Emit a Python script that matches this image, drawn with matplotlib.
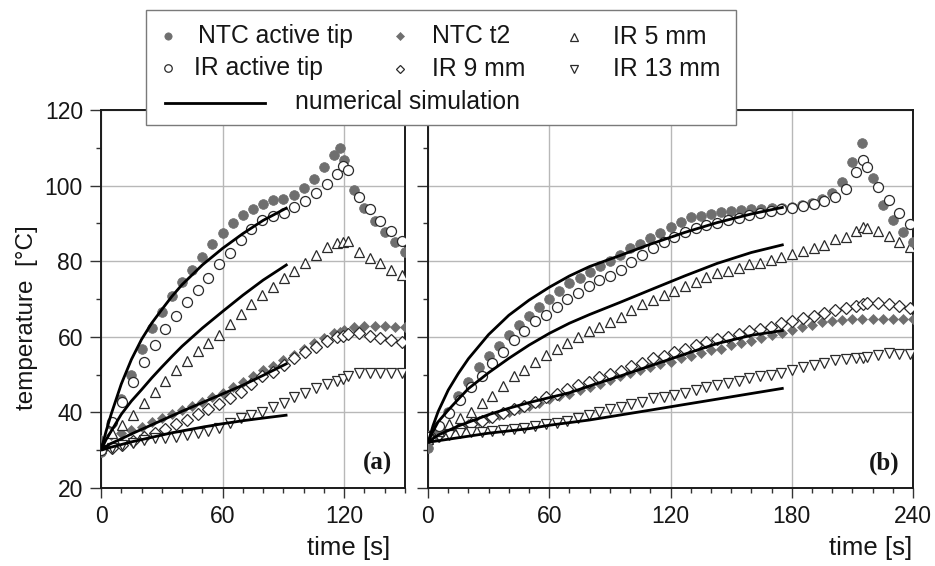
import matplotlib
matplotlib.use('Agg')
import matplotlib.pyplot as plt
from matplotlib import ticker
from matplotlib.lines import Line2D
from matplotlib.patches import Rectangle

plt.rcParams['font.family'] = ['Liberation Sans', 'DejaVu Sans']

# Panel (a): NTC probes sampled every 5 s, IR camera roughly every 5.3 s
ntc_a_time = [0, 5, 10, 15, 20, 25, 30, 35, 40, 45, 50, 55, 60, 65, 70, 75, 80, 85, 90, 95,
              100, 105, 110, 115, 118, 120, 125, 130, 135, 140, 145, 150]
ntc_tip_a = [29.5, 37.0, 43.5, 49.9, 56.7, 62.2, 66.6, 70.8, 74.6, 77.8, 81.2, 84.6, 87.5, 90.2, 92.2, 93.8,
             95.1, 96.2, 96.4, 97.5, 99.4, 101.7, 104.8, 108.0, 110.0, 106.9, 98.8, 94.2, 90.6, 87.6, 85.0, 82.5]
ntc_t2_a = [32.7, 34.0, 34.5, 35.3, 36.2, 37.5, 38.4, 39.6, 40.6, 41.7, 42.8, 44.0, 45.2, 46.8, 48.1, 49.7,
            51.2, 52.3, 53.9, 55.2, 56.7, 58.3, 59.6, 60.9, 61.4, 61.8, 62.5, 62.9, 62.9, 62.9, 62.7, 62.5]

ir_a_time = [0, 5.3, 10.6, 15.9, 21.2, 26.5, 31.8, 37.1, 42.4, 47.7, 53.0, 58.3, 63.6, 68.9, 74.2,
             79.5, 84.8, 90.1, 95.4, 100.7, 106.0, 111.3, 116.6, 119.5, 121.9, 127.2, 132.5, 137.8, 143.1, 148.4]
ir_tip_a = [30.0, 37.5, 42.8, 48.1, 53.4, 57.7, 62.0, 65.5, 69.3, 72.4, 75.6, 79.3, 82.2, 85.6, 88.6,
            90.9, 92.0, 92.8, 94.3, 96.0, 98.1, 100.4, 103.2, 105.3, 104.1, 96.9, 93.7, 90.6, 88.1, 85.4]
ir_5mm_a = [30.5, 34.5, 36.7, 39.3, 42.4, 45.5, 48.4, 51.2, 53.7, 56.3, 58.3, 60.5, 63.5, 66.0, 68.6,
            71.1, 73.3, 75.5, 77.4, 79.6, 81.6, 83.8, 84.9, 85.2, 85.4, 82.5, 80.8, 79.4, 77.8, 76.3]
ir_9mm_a = [30.1, 30.5, 31.5, 32.5, 33.5, 34.6, 35.6, 36.8, 38.0, 39.5, 40.8, 42.2, 43.8, 45.5, 47.5,
            49.5, 50.8, 52.5, 54.3, 56.1, 57.4, 59.0, 59.9, 60.3, 60.7, 61.1, 60.2, 59.6, 59.2, 58.7]
ir_13mm_a = [30.0, 30.5, 31.3, 32.0, 32.6, 33.1, 33.3, 33.5, 34.0, 34.5, 35.2, 35.8, 37.1, 38.4, 39.3,
             40.2, 41.5, 42.6, 44.0, 45.2, 46.4, 47.5, 48.2, 48.8, 49.5, 50.3, 50.3, 50.3, 50.3, 50.3]

sim_a_time = [0, 2.5, 5, 10, 15, 20, 25, 30, 35, 40, 50, 60, 70, 80, 92]
sim_a_tip = [30, 35.0, 39.5, 47.5, 54.0, 59.3, 63.6, 67.2, 70.7, 73.8, 79.0, 83.4, 87.3, 90.8, 94.2]
sim_a_5mm = [30, 32.8, 35.0, 39.5, 43.0, 46.0, 49.1, 52.0, 54.8, 57.5, 62.3, 66.7, 71.0, 75.0, 79.2]
sim_a_t2 = [30, 31.0, 31.8, 33.0, 34.3, 35.5, 36.7, 37.9, 39.1, 40.3, 42.6, 44.9, 47.2, 49.8, 53.0]
sim_a_13mm = [30, 30.4, 30.8, 31.5, 32.2, 32.8, 33.4, 34.0, 34.6, 35.1, 36.1, 37.0, 37.8, 38.5, 39.3]

# Panel (b)
ntc_b_time = [0, 5, 10, 15, 20, 25, 30, 35, 40, 45, 50, 55, 60, 65, 70, 75, 80, 85, 90, 95,
              100, 105, 110, 115, 120, 125, 130, 135, 140, 145, 150, 155, 160, 165, 170, 175, 180,
              185, 190, 195, 200, 205, 210, 215, 220, 225, 230, 235, 240]
ntc_tip_b = [30.5, 35.5, 40.0, 44.3, 48.1, 51.9, 54.9, 57.6, 60.5, 63.1, 65.6, 67.8, 70.0, 72.2, 74.3,
             75.6, 77.1, 78.6, 80.0, 81.6, 83.4, 84.6, 86.2, 87.5, 89.1, 90.5, 91.6, 92.0, 92.5, 93.1,
             93.4, 93.5, 93.7, 93.8, 94.2, 94.2, 94.4, 94.8, 95.4, 96.4, 98.1, 100.9, 106.3, 111.4,
             101.9, 94.9, 90.9, 87.8, 85.2]
ntc_t2_b = [32.0, 33.5, 35.0, 36.0, 37.0, 37.8, 38.5, 39.3, 40.1, 40.9, 41.7, 42.5, 43.5, 44.3, 45.0,
            45.8, 46.6, 47.5, 48.6, 49.5, 50.4, 51.2, 51.9, 52.8, 53.4, 54.3, 54.9, 55.8, 56.5, 56.9,
            57.8, 58.4, 59.0, 59.8, 60.5, 61.1, 61.8, 62.5, 63.1, 63.8, 64.3, 64.4, 64.6, 64.6, 64.6,
            64.6, 64.6, 64.6, 64.6]

ir_b_time = [0, 5.3, 10.6, 15.9, 21.2, 26.5, 31.8, 37.1, 42.4, 47.7, 53.0, 58.3, 63.6, 68.9, 74.2,
             79.5, 84.8, 90.1, 95.4, 100.7, 106.0, 111.3, 116.6, 121.9, 127.2, 132.5, 137.8, 143.1,
             148.4, 153.7, 159.0, 164.3, 169.6, 174.9, 180.2, 185.5, 190.8, 196.1, 201.4, 206.7,
             212.0, 215.5, 217.3, 222.6, 227.9, 233.2, 238.5]
ir_tip_b = [33.5, 36.5, 39.8, 43.3, 46.8, 49.7, 53.0, 56.0, 59.2, 61.6, 64.2, 65.8, 68.0, 69.9, 71.7,
            73.4, 75.0, 76.1, 77.7, 79.9, 81.6, 83.4, 85.2, 86.5, 87.8, 88.7, 89.6, 90.2, 90.9, 91.3,
            92.3, 92.8, 93.2, 93.7, 94.2, 94.6, 95.1, 95.9, 96.9, 99.1, 103.7, 106.8, 104.8, 99.7,
            96.2, 92.8, 89.8]
ir_5mm_b = [33.0, 35.0, 36.8, 38.4, 40.2, 42.4, 44.3, 47.0, 49.6, 51.2, 53.4, 55.2, 56.7, 58.3, 60.0,
            61.6, 62.7, 63.8, 65.3, 67.1, 68.7, 69.8, 71.1, 72.2, 73.4, 74.6, 75.9, 76.8, 77.5, 78.3,
            79.2, 79.6, 80.3, 81.2, 81.9, 82.8, 83.4, 84.3, 85.8, 86.5, 88.1, 89.1, 88.7, 88.0, 86.7,
            85.2, 83.7]
ir_9mm_b = [33.8, 34.3, 35.3, 36.0, 37.0, 37.8, 38.9, 39.8, 40.8, 41.7, 42.8, 44.0, 45.0, 46.1, 47.2,
            48.0, 49.3, 50.2, 51.0, 52.3, 53.2, 54.4, 55.0, 56.1, 56.9, 57.8, 58.7, 59.3, 60.0, 60.7,
            61.6, 62.0, 62.7, 63.6, 64.3, 64.9, 65.5, 66.4, 67.1, 67.5, 68.1, 68.7, 69.0, 68.9, 68.7,
            68.1, 67.5]
ir_13mm_b = [33.0, 33.5, 34.0, 34.6, 34.9, 34.9, 35.2, 35.3, 35.5, 35.8, 36.4, 36.9, 37.3, 37.7, 38.4,
             39.4, 40.2, 40.8, 41.5, 42.2, 42.8, 43.7, 44.2, 44.6, 45.2, 45.9, 46.6, 47.2, 47.9, 48.4,
             49.0, 49.5, 49.9, 50.5, 51.2, 51.9, 52.5, 53.2, 53.9, 54.0, 54.3, 54.3, 54.6, 55.2, 55.8,
             55.5, 55.5]

sim_b_time = [0, 2.5, 5, 10, 15, 20, 30, 40, 50, 60, 70, 80, 95, 110, 127, 143, 160, 176]
sim_b_tip = [32, 36.5, 40.2, 45.9, 50.3, 54.2, 60.6, 65.7, 69.7, 73.1, 76.1, 78.6, 81.5, 84.5, 87.6, 90.2, 92.5, 94.3]
sim_b_5mm = [32, 35.0, 37.5, 40.6, 43.5, 46.3, 50.5, 54.3, 57.8, 60.9, 63.6, 65.9, 69.1, 72.4, 76.1, 79.4, 82.3, 84.4]
sim_b_t2 = [32, 33.1, 34.0, 35.2, 36.4, 37.4, 39.4, 41.1, 42.6, 43.9, 45.2, 47.0, 49.6, 52.3, 55.4, 58.2, 60.4, 61.7]
sim_b_13mm = [32, 32.3, 32.5, 32.9, 33.3, 33.7, 34.5, 35.1, 35.7, 36.6, 37.3, 38.0, 39.3, 40.6, 42.1, 43.5, 45.0, 46.4]

# Styles
GRAY = '#6f6f6f'
EDGE = '#2a2a2a'
TEXT = '#161616'
styles = {
    'ntc_tip': dict(marker='o', ms=7, mfc=GRAY, mec=GRAY, mew=0.5, ls='none'),
    'ir_tip': dict(marker='o', ms=7.2, mfc='white', mec=EDGE, mew=0.9, ls='none'),
    'ntc_t2': dict(marker='D', ms=5.6, mfc=GRAY, mec=GRAY, mew=0.5, ls='none'),
    'ir_9mm': dict(marker='D', ms=6.0, mfc='white', mec=EDGE, mew=0.9, ls='none'),
    'ir_5mm': dict(marker='^', ms=7.2, mfc='white', mec=EDGE, mew=0.9, ls='none'),
    'ir_13mm': dict(marker='v', ms=7.2, mfc='white', mec=EDGE, mew=0.9, ls='none'),
}

fig = plt.figure(figsize=(9.35, 5.66), dpi=100)
W, H = 935, 566
ax_a = fig.add_axes([101 / W, 1 - 488 / H, 304 / W, 378 / H])
ax_b = fig.add_axes([428 / W, 1 - 488 / H, 485 / W, 378 / H])


def draw_panel(ax, ntc_t, ntc_tip, ntc_t2, ir_t, ir_tip, ir_5, ir_9, ir_13, sim_t, sims):
    ax.plot(ntc_t, ntc_t2, zorder=3, **styles['ntc_t2'])
    ax.plot(ir_t, ir_9, zorder=3, **styles['ir_9mm'])
    ax.plot(ir_t, ir_13, zorder=3, **styles['ir_13mm'])
    ax.plot(ir_t, ir_5, zorder=3, **styles['ir_5mm'])
    ax.plot(ntc_t, ntc_tip, zorder=3, **styles['ntc_tip'])
    ax.plot(ir_t, ir_tip, zorder=4, **styles['ir_tip'])
    for s in sims:
        ax.plot(sim_t, s, color='black', lw=2.0, zorder=5, solid_capstyle='butt')


draw_panel(ax_a, ntc_a_time, ntc_tip_a, ntc_t2_a, ir_a_time, ir_tip_a, ir_5mm_a, ir_9mm_a, ir_13mm_a,
           sim_a_time, [sim_a_tip, sim_a_5mm, sim_a_t2, sim_a_13mm])
draw_panel(ax_b, ntc_b_time, ntc_tip_b, ntc_t2_b, ir_b_time, ir_tip_b, ir_5mm_b, ir_9mm_b, ir_13mm_b,
           sim_b_time, [sim_b_tip, sim_b_5mm, sim_b_t2, sim_b_13mm])

for ax, xmax, xticks in [(ax_a, 150, [0, 60, 120]), (ax_b, 240, [0, 60, 120, 180, 240])]:
    ax.set_xlim(0, xmax)
    ax.set_ylim(20, 120)
    ax.xaxis.set_major_locator(ticker.FixedLocator(xticks))
    ax.xaxis.set_minor_locator(ticker.MultipleLocator(10))
    ax.yaxis.set_major_locator(ticker.MultipleLocator(20))
    ax.yaxis.set_minor_locator(ticker.MultipleLocator(10))
    ax.grid(True, which='major', color='#b8b8b8', lw=1.0)
    ax.set_axisbelow(True)
    for sp in ax.spines.values():
        sp.set_linewidth(1.4)
        sp.set_color('#1a1a1a')
    ax.tick_params(which='major', direction='out', length=7, width=1.0, color='#333333',
                   labelsize=16.5, labelcolor=TEXT, pad=5)
    ax.tick_params(which='minor', direction='out', length=3.5, width=1.0, color='#333333')
    ax.tick_params(axis='y', which='major', length=8)

ax_b.tick_params(axis='y', labelleft=False)

ax_a.text(0.911, 0.066, '(a)', transform=ax_a.transAxes, ha='center', va='center',
          fontsize=18, fontweight='bold', family='Liberation Serif', color=TEXT)
ax_b.text(0.940, 0.066, '(b)', transform=ax_b.transAxes, ha='center', va='center',
          fontsize=18, fontweight='bold', family='Liberation Serif', color=TEXT)

# Axis labels
fig.text(390 / W, 1 - 548 / H, 'time [s]', ha='right', va='center', fontsize=18.5, color=TEXT)
fig.text(912 / W, 1 - 548 / H, 'time [s]', ha='right', va='center', fontsize=18.5, color=TEXT)
fig.text(27 / W, 1 - 318 / H, 'temperature  [\u00b0C]', rotation=90, ha='center', va='center',
         fontsize=17.5, color=TEXT)

# Legend box drawn on top of both panels
fig.add_artist(Rectangle((146 / W, 1 - 125 / H), 590 / W, 115 / H, transform=fig.transFigure,
                         fc='white', ec='#7a7a7a', lw=1.0, zorder=10))

legend_items = [
    ('ntc_tip', 'NTC active tip', 168, 36, 198),
    ('ir_tip', 'IR active tip', 168, 68, 194),
    ('ntc_t2', 'NTC t2', 400, 36, 432),
    ('ir_9mm', 'IR 9 mm', 400, 69, 432),
    ('ir_5mm', 'IR 5 mm', 574, 37, 613),
    ('ir_13mm', 'IR 13 mm', 574, 69, 613),
]
for key, label, mx, my, tx in legend_items:
    st = dict(styles[key])
    st['ms'] = st['ms'] * 0.75
    fig.add_artist(Line2D([mx / W], [1 - my / H], transform=fig.transFigure, zorder=11, **st))
    fig.text(tx / W, 1 - my / H, label, ha='left', va='center', fontsize=17.8, color=TEXT, zorder=11)

fig.add_artist(Line2D([165 / W, 265 / W], [1 - 103 / H, 1 - 103 / H], transform=fig.transFigure,
                      color='black', lw=2.0, zorder=11))
fig.text(295 / W, 1 - 102 / H, 'numerical simulation', ha='left', va='center', fontsize=17.8,
         color=TEXT, zorder=11)

fig.savefig('out.png', dpi=100)
